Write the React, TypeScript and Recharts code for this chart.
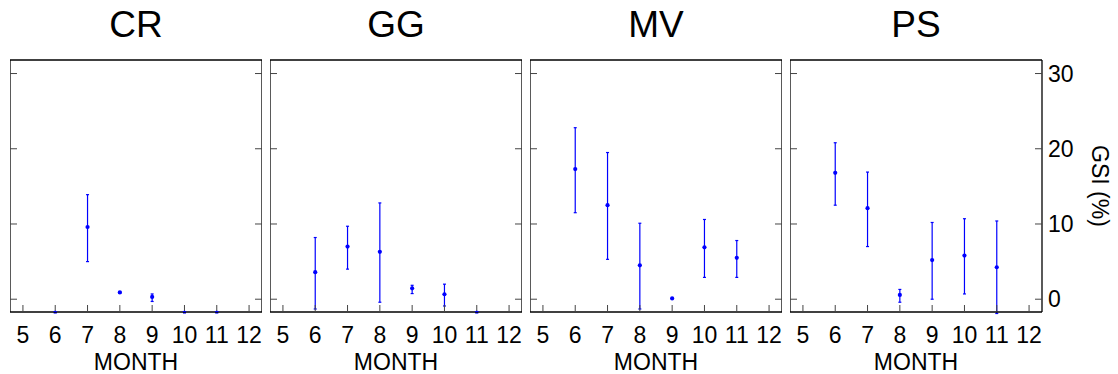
import React from 'react';
import { ScatterChart, Scatter, XAxis, YAxis, ErrorBar, Label } from 'recharts';

const SITES = ['CR', 'GG', 'MV', 'PS'];
const MONTH_TICKS = [5, 6, 7, 8, 9, 10, 11, 12];
const GSI_TICKS = [0, 10, 20, 30];
const SAMPLE_MONTHS = [6, 7, 8, 9, 10, 11];

// mean GSI (%) per sampled month; -1.8 sits under the axis floor (drawn clipped on the bottom edge)
const crMean = [-1.8, 9.6, 0.9, 0.3, -1.8, -1.8];
const crErrLow = [0, 4.6, 0.1, 0.6, 0, 0];
const crErrHigh = [0, 4.3, 0.1, 0.4, 0, 0];

const ggMean = [3.6, 7.0, 6.3, 1.45, 0.66, -1.8];
const ggErrLow = [4.9, 3.0, 6.7, 0.7, 1.56, 0];
const ggErrHigh = [4.6, 2.7, 6.5, 0.4, 1.34, 0];

const mvMean = [17.3, 12.5, 4.5, 0.1, 6.9, 5.5];
const mvErrLow = [5.8, 7.2, 5.8, 0, 4.0, 2.6];
const mvErrHigh = [5.5, 7.0, 5.6, 0, 3.7, 2.3];

const psMean = [16.8, 12.1, 0.57, 5.2, 5.8, 4.25];
const psErrLow = [4.3, 5.1, 0.97, 5.2, 5.1, 6.15];
const psErrHigh = [4.0, 4.8, 0.73, 5.0, 4.9, 6.15];

const X_DOMAIN = [4.6, 12.4];
const Y_DOMAIN = [-1.7, 31.8];
const PLOT_W = 252;
const RIGHT_AXIS_W = 76;
const BLUE = '#0000ff';

const buildRows = (mean: number[], lo: number[], hi: number[]) =>
  SAMPLE_MONTHS.map((m, i) => ({ month: m, gsi: mean[i], err: [lo[i], hi[i]] }));

const panels = [
  { name: SITES[0], rows: buildRows(crMean, crErrLow, crErrHigh), left: 10 },
  { name: SITES[1], rows: buildRows(ggMean, ggErrLow, ggErrHigh), left: 270 },
  { name: SITES[2], rows: buildRows(mvMean, mvErrLow, mvErrHigh), left: 530 },
  { name: SITES[3], rows: buildRows(psMean, psErrLow, psErrHigh), left: 790 },
];

const blank = () => '';

const Dot = (p: any) => <circle cx={p.cx} cy={p.cy} r={2.1} fill={BLUE} />;

const GsiLabel = (p: any) => {
  const vb = p.viewBox;
  const x = vb.x + 58;
  const y = vb.y + vb.height / 2;
  return (
    <text x={x} y={y} transform={`rotate(90, ${x}, ${y})`} textAnchor="middle" dominantBaseline="central" fontSize={23} fill="#000">
      GSI (%)
    </text>
  );
};

function Panel({ name, rows, left, showRight }: { name: string; rows: any[]; left: number; showRight: boolean }) {
  const w = showRight ? PLOT_W + RIGHT_AXIS_W : PLOT_W;
  const axisLine = { stroke: '#000', strokeWidth: 1.3 };
  const tickLine = { stroke: '#444' };
  return (
    <div style={{ position: 'absolute', left, top: 0, width: w, height: 374 }}>
      <div style={{ position: 'absolute', left: 0, top: 6, width: PLOT_W, textAlign: 'center', fontSize: 37, lineHeight: '37px' }}>
        {name}
      </div>
      <ScatterChart width={w} height={374} margin={{ top: 60, right: 0, bottom: 0, left: 0 }}>
        <XAxis
          xAxisId="m"
          dataKey="month"
          type="number"
          domain={X_DOMAIN}
          ticks={MONTH_TICKS}
          interval={0}
          allowDataOverflow
          height={62}
          tickSize={-7}
          tickMargin={22}
          axisLine={axisLine}
          tickLine={tickLine}
          tick={{ fill: '#000', fontSize: 23 }}
        >
          <Label value="MONTH" position="insideBottom" offset={4} fontSize={23} fill="#000" />
        </XAxis>
        <XAxis
          xAxisId="top"
          orientation="top"
          mirror
          type="number"
          domain={X_DOMAIN}
          ticks={MONTH_TICKS}
          interval={0}
          allowDataOverflow
          height={30}
          tickSize={7}
          tickFormatter={blank}
          axisLine={axisLine}
          tickLine={tickLine}
        />
        <YAxis
          yAxisId="g"
          dataKey="gsi"
          type="number"
          domain={Y_DOMAIN}
          ticks={GSI_TICKS}
          interval={0}
          allowDataOverflow
          mirror
          tickSize={7}
          tickFormatter={blank}
          axisLine={axisLine}
          tickLine={tickLine}
        />
        <YAxis
          yAxisId="r"
          orientation="right"
          type="number"
          domain={Y_DOMAIN}
          ticks={GSI_TICKS}
          interval={0}
          allowDataOverflow
          mirror={!showRight}
          width={showRight ? RIGHT_AXIS_W : 30}
          tickSize={showRight ? -7 : 7}
          tickMargin={13}
          tickFormatter={showRight ? undefined : blank}
          axisLine={axisLine}
          tickLine={tickLine}
          tick={{ fill: '#000', fontSize: 23 }}
        >
          {showRight && <Label content={GsiLabel} />}
        </YAxis>
        <Scatter xAxisId="m" yAxisId="g" data={rows} fill={BLUE} shape={Dot} isAnimationActive={false}>
          <ErrorBar dataKey="err" direction="y" width={1.5} stroke={BLUE} strokeWidth={1.2} isAnimationActive={false} />
        </Scatter>
      </ScatterChart>
    </div>
  );
}

export default function App() {
  return (
    <div
      style={{
        position: 'absolute',
        left: 0,
        top: 0,
        width: 1118,
        height: 374,
        background: '#fff',
        fontFamily: '"Liberation Sans", Arial, sans-serif',
      }}
    >
      {panels.map((p, i) => (
        <Panel key={p.name} name={p.name} rows={p.rows} left={p.left} showRight={i === panels.length - 1} />
      ))}
    </div>
  );
}
